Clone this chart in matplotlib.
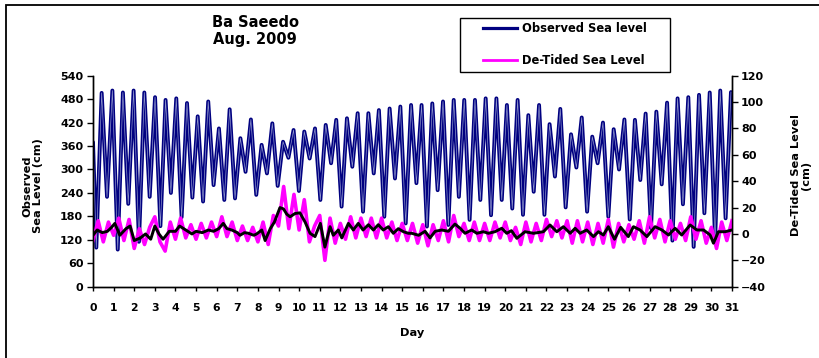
import numpy as np
import matplotlib
matplotlib.use('Agg')
import matplotlib.pyplot as plt
from matplotlib.patches import Rectangle
from matplotlib.lines import Line2D

plt.rcParams['font.family'] = ['DejaVu Sans']
plt.rcParams['font.weight'] = 'bold'

# ---------------- data ----------------
title_text = "Ba Saeedo\nAug. 2009"
series_names = ["Observed Sea level", "De-Tided Sea Level"]
day_ticks = list(range(0, 32))
left_ticks = list(range(0, 541, 60))
right_ticks = list(range(-40, 121, 20))

# observed sea level: start value and successive low/high water (day, cm)
obs_t = [0.00, 0.16, 0.42, 0.68, 0.94, 1.20, 1.45, 1.71, 1.97, 2.23, 2.49, 2.75, 3.01,
         3.27, 3.52, 3.78, 4.04, 4.30, 4.56, 4.82, 5.08, 5.34, 5.59, 5.85, 6.11,
         6.37, 6.63, 6.89, 7.15, 7.40, 7.66, 7.92, 8.18, 8.44, 8.70, 8.96, 9.22,
         9.48, 9.73, 9.99, 10.25, 10.51, 10.77, 11.03, 11.29, 11.55, 11.80, 12.06,
         12.32, 12.58, 12.84, 13.10, 13.36, 13.62, 13.87, 14.13, 14.39, 14.65,
         14.91, 15.17, 15.43, 15.69, 15.94, 16.20, 16.46, 16.72, 16.98, 17.24,
         17.50, 17.75, 18.01, 18.27, 18.53, 18.79, 19.05, 19.31, 19.57, 19.83,
         20.08, 20.34, 20.60, 20.86, 21.12, 21.38, 21.64, 21.90, 22.15, 22.41,
         22.67, 22.93, 23.19, 23.45, 23.71, 23.97, 24.22, 24.48, 24.74, 25.00,
         25.26, 25.52, 25.78, 26.04, 26.29, 26.55, 26.81, 27.07, 27.33, 27.59,
         27.85, 28.11, 28.36, 28.62, 28.88, 29.14, 29.40, 29.66, 29.92, 30.18,
         30.43, 30.69, 30.95]
obs_v = [370, 100, 496, 230, 502, 95, 497, 212, 502, 115, 497, 230, 485,
         155, 478, 240, 482, 178, 470, 228, 436, 218, 474, 260, 405,
         222, 454, 226, 380, 294, 428, 235, 363, 290, 418, 258, 371,
         330, 401, 245, 397, 328, 405, 222, 414, 316, 427, 205,
         431, 307, 444, 192, 444, 290, 452, 179, 456, 277,
         461, 162, 465, 265, 465, 154, 469, 247, 474, 158,
         478, 230, 478, 171, 478, 222, 482, 183, 482, 222,
         465, 200, 478, 184, 439, 243, 465, 184, 416, 282,
         455, 203, 390, 305, 433, 192, 384, 316, 420, 179,
         403, 300, 428, 172, 427, 273, 443, 150, 448, 262,
         471, 118, 482, 211, 485, 102, 491, 188, 497, 120,
         502, 175, 498]

# de-tided sea level (cm), every 6 hours
det_t = np.arange(0, 31.01, 0.25)
det_v = [-5, 10, -6, 9, -1, 12, -5, 11, -11, 4,
         -8, 5, 13, -6, -13, 9, -4, 12, -3, 7,
         -4, 8, -3, 9, -2, 13, -2, 9, -5, 6,
         -5, 5, -6, 9, -8, 14, 6, 36, 4, 30,
         3, 26, -6, 6, 14, -20, 12, -7, 8, -4,
         13, -3, 12, -2, 12, -3, 12, -3, 9, -5,
         8, -5, 8, -7, 7, -9, 7, -5, 10, -6,
         14, -2, 8, -5, 9, -5, 8, -5, 9, -3,
         9, -5, 5, -8, 9, -6, 8, -5, 11, -2,
         10, -3, 10, -7, 10, -6, 9, -8, 8, -7,
         11, -10, 8, -6, 7, -4, 10, -7, 13, -3,
         11, -6, 10, -4, 8, -5, 13, -4, 10, -7,
         5, -11, 9, -5, 10]

# smoothed de-tided level (cm)
smo_t = [0.0, 0.2, 0.45, 0.7, 0.9, 1.06, 1.3, 1.6, 1.8, 2.0, 2.3, 2.55, 2.8, 3.0,
         3.2, 3.4, 3.7, 4.0, 4.2, 4.5, 4.8, 5.0, 5.3, 5.6, 5.85, 6.1, 6.32, 6.5,
         6.73, 7.0, 7.13, 7.35, 7.54, 7.8, 7.94, 8.19, 8.35, 8.6, 8.8, 9.07, 9.24,
         9.4, 9.56, 9.8, 10.04, 10.29, 10.53, 10.77, 11.03, 11.25, 11.5, 11.66,
         11.9, 12.07, 12.39, 12.63, 12.87, 13.1, 13.36, 13.6, 13.84, 14.08, 14.33,
         14.57, 14.81, 15.06, 15.3, 15.46, 15.8, 16.11, 16.35, 16.6, 16.92, 17.24,
         17.56, 17.81, 18.05, 18.37, 18.62, 18.94, 19.18, 19.5, 19.83, 20.07, 20.3,
         20.56, 20.96, 21.37, 21.85, 22.17, 22.5, 22.82, 23.15, 23.39, 23.63,
         23.95, 24.28, 24.52, 24.76, 25.0, 25.3, 25.6, 25.97, 26.22, 26.54, 26.87,
         27.27, 27.6, 27.92, 28.24, 28.56, 28.97, 29.3, 29.62, 29.94, 30.1, 30.34,
         30.67, 31.0]
smo_v = [-1, 3, 1, 2, 5, 8, -1, 4, 6, -5, -3, 0, -4, 6,
         0, -4, 2, 2, 6, 3, 0, 2, 1, 3, 2, 4, 8, 4,
         3, 1, -1, 1, 0.5, -1, 0, 3, -5, 4, 9, 20, 19,
         15, 13, 15.5, 16, 9, 0.5, -2, 8, -10, 5.5, -1,
         3, -3, 8, 3, 8, 3, 7, 3, 7, 3, 5.5,
         0.5, 4, 1.7, 0.5, 0.5, -1, 2, -3, 2, 3, 2,
         7.5, 4.3, 0.5, 3, 0.5, 1.7, 0.5, 1.7, 4.3, 0.5, 2.5,
         -3.3, 1.7, 0.5, 1.7, 6.8, 1.7, 5.5, 0.5, 4.3, 0.5,
         3, -2, 1.7, -0.8, 5.5, -4, 5, -2, 5.5, 3, -2,
         5.5, 3, -0.8, 4.3, -0.8, 6.8, 3, 3, -0.8, -7, 1.7,
         1.7, 3]

# ---------------- layout ----------------
W, H = 819, 358
fig = plt.figure(figsize=(W / 100, H / 100), dpi=100)


def fx(px):
    return px / W


def fy(py):
    return 1 - py / H


L, R, T, B = 93, 732, 75.7, 286.7
ax = fig.add_axes([fx(L), fy(B), fx(R) - fx(L), fy(T) - fy(B)])
ax2 = ax.twinx()
ax.patch.set_visible(False)

navy = '#000080'
mag = '#ff00ff'

ax.plot(obs_t, obs_v, color=navy, lw=2.8, solid_joinstyle='round',
        solid_capstyle='round', zorder=2)
ax.plot(obs_t, obs_v, color='#9096cc', lw=0.5, zorder=3)
ax2.plot(det_t, det_v, color=mag, lw=2.6, solid_joinstyle='round', zorder=2)
ax2.plot(smo_t, smo_v, color='black', lw=2.1, solid_joinstyle='round', zorder=3)

ax.set_xlim(0, 31)
ax.set_ylim(0, 540)
ax2.set_ylim(-40, 120)

ax.set_xticks(day_ticks)
ax.set_xticklabels([str(d) for d in day_ticks])
ax.set_yticks(left_ticks)
ax2.set_yticks(right_ticks)

for a in (ax, ax2):
    a.spines['top'].set_visible(False)
    for s in ('left', 'right', 'bottom'):
        a.spines[s].set_linewidth(1.0)

ax.tick_params(axis='x', direction='out', length=3, width=1, pad=9, labelsize=7.8)
ax.tick_params(axis='y', direction='out', length=4, width=1, pad=3, labelsize=8)
ax2.tick_params(axis='y', direction='out', length=4, width=1, pad=2.5, labelsize=8)
for lab in ax.get_xticklabels() + ax.get_yticklabels() + ax2.get_yticklabels():
    lab.set_fontweight('bold')

# titles / labels
fig.text(fx(255), fy(31), title_text, ha='center', va='center', fontsize=10.5,
         fontweight='bold', linespacing=1.15, multialignment='center')
fig.text(fx(412.5), fy(333), "Day", ha='center', va='center', fontsize=8.2,
         fontweight='bold')
fig.text(fx(32.5), fy(186), "Observed\nSea Level (cm)", ha='center', va='center',
         rotation=90, fontsize=8.2, fontweight='bold', linespacing=1.1,
         multialignment='center')
fig.text(fx(801), fy(175), "De-Tided Sea Level\n(cm)", ha='center', va='center',
         rotation=90, fontsize=8.2, fontweight='bold', linespacing=1.1,
         multialignment='center')

# legend
handles = [Line2D([], [], color=navy, lw=2.3), Line2D([], [], color=mag, lw=2.0)]
fig.legend(handles, series_names, loc='center', bbox_to_anchor=(fx(565), fy(44.5)),
           frameon=False, handlelength=2.9, handletextpad=0.45,
           labelspacing=1.7, borderpad=0, borderaxespad=0,
           prop={'weight': 'bold', 'size': 8.3})
fig.add_artist(Rectangle((fx(460), fy(72)), fx(670) - fx(460), fy(18) - fy(72),
                         transform=fig.transFigure, fill=False, lw=1.0, ec='black'))

# outer chart border
fig.add_artist(Rectangle((fx(6), fy(380)), fx(850) - fx(6), fy(5) - fy(380),
                         transform=fig.transFigure, fill=False, lw=1.3, ec='black'))

fig.savefig('out.png', dpi=100)
